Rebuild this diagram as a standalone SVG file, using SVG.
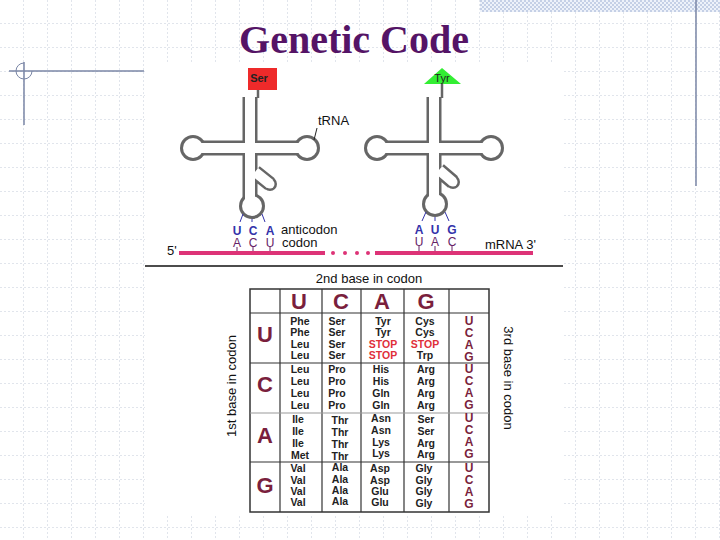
<svg xmlns="http://www.w3.org/2000/svg" width="720" height="540" viewBox="0 0 720 540">
<defs>
<pattern id="grid" width="24" height="24" patternUnits="userSpaceOnUse">
<path d="M24 0V24M0 24H24" stroke="#c2cad8" stroke-width="1" stroke-dasharray="2,2" fill="none"/>
</pattern>
<pattern id="hatch" width="4" height="4" patternUnits="userSpaceOnUse">
<rect width="4" height="4" fill="#eef2fa"/><rect width="2" height="2" fill="#c5d0e6"/><rect x="2" y="2" width="2" height="2" fill="#c5d0e6"/>
</pattern>
</defs>
<style>
.t{font-family:"Liberation Sans",Arial,sans-serif}
.cell{font-family:"Liberation Sans",Arial,sans-serif;font-size:10.5px;font-weight:bold;fill:#222;text-anchor:middle}
.stop{fill:#e0303a}
.hd{font-family:"Liberation Sans",Arial,sans-serif;font-size:22px;font-weight:bold;fill:#7a1f3d;text-anchor:middle}
.r3{font-family:"Liberation Sans",Arial,sans-serif;font-size:12px;font-weight:bold;fill:#7a1f3d;text-anchor:middle}
.ac{font-family:"Liberation Sans",Arial,sans-serif;font-size:12px;font-weight:bold;fill:#3333aa;text-anchor:middle}
.co{font-family:"Liberation Sans",Arial,sans-serif;font-size:12px;fill:#662266;text-anchor:middle}
.lbl{font-family:"Liberation Sans",Arial,sans-serif;font-size:13px;fill:#111}
.gl{stroke:#666;stroke-width:15;fill:none}
.wl{stroke:#fff;stroke-width:10;fill:none}
</style>
<rect width="720" height="540" fill="#fff"/>
<rect width="720" height="540" fill="url(#grid)"/>
<rect x="480" y="0" width="240" height="12" fill="url(#hatch)"/>
<line x1="696" y1="0" x2="696" y2="186" stroke="#7a86a6" stroke-width="1.5"/>
<line x1="9" y1="71" x2="144" y2="71" stroke="#7a86a6" stroke-width="1.5"/>
<line x1="24" y1="62" x2="24" y2="125" stroke="#7a86a6" stroke-width="1.5"/>
<path d="M24 63 A8 8 0 1 0 32 71" stroke="#7a86a6" stroke-width="1" fill="none"/>
<rect x="145" y="62" width="419" height="453" fill="#fff"/>
<text x="354" y="53" text-anchor="middle" font-family="Liberation Serif,serif" font-size="40" font-weight="bold" fill="#551466">Genetic Code</text>

<g id="trna-ser">
<g fill="#666">
<circle cx="193" cy="148" r="13"/><circle cx="307" cy="148" r="13"/><circle cx="252" cy="206" r="13"/><circle cx="270" cy="184" r="7"/>
</g>
<path class="gl" d="M250 97V200M193 148H307M255 172L270 184"/>
<g fill="#fff">
<circle cx="193" cy="148" r="10"/><circle cx="307" cy="148" r="10"/><circle cx="252" cy="206" r="10"/><circle cx="270" cy="184" r="4.5"/>
</g>
<path class="wl" d="M250 90V200M193 148H307M255 172L270 184"/>
<line x1="258" y1="88" x2="258" y2="98" stroke="#666" stroke-width="2.5"/>
<rect x="248" y="68" width="29" height="22" fill="#ee2a2a"/>
<text x="259" y="82" class="t" font-size="11" font-weight="bold" fill="#222" text-anchor="middle">Ser</text>
</g>

<g id="trna-tyr">
<g fill="#666">
<circle cx="377" cy="148" r="13"/><circle cx="491" cy="148" r="13"/><circle cx="435" cy="204" r="13"/><circle cx="453" cy="182" r="7"/>
</g>
<path class="gl" d="M434 97V198M377 148H491M439 170L453 182"/>
<g fill="#fff">
<circle cx="377" cy="148" r="10"/><circle cx="491" cy="148" r="10"/><circle cx="435" cy="204" r="10"/><circle cx="453" cy="182" r="4.5"/>
</g>
<path class="wl" d="M434 90V198M377 148H491M439 170L453 182"/>
<line x1="442" y1="82" x2="442" y2="98" stroke="#666" stroke-width="2.5"/>
<path d="M442 68 L461 84 L424 84 Z" fill="#33ee33"/>
<text x="442" y="82" class="t" font-size="11" fill="#222" text-anchor="middle">Tyr</text>
</g>

<g id="connectors" stroke-width="1">
<line x1="317" y1="128" x2="314" y2="140" stroke="#222"/>
<g stroke="#3333aa">
<line x1="243" y1="214" x2="240" y2="222"/><line x1="252" y1="219" x2="252" y2="222"/><line x1="262" y1="214" x2="265" y2="222"/>
<line x1="426" y1="212" x2="422" y2="221"/><line x1="435" y1="217" x2="435" y2="221"/><line x1="445" y1="212" x2="449" y2="221"/>
</g>
<g stroke="#662266">
<line x1="237" y1="247" x2="237" y2="253"/><line x1="253" y1="247" x2="253" y2="253"/><line x1="270" y1="247" x2="270" y2="253"/>
<line x1="419" y1="246" x2="419" y2="253"/><line x1="435" y1="246" x2="435" y2="253"/><line x1="452" y1="246" x2="452" y2="253"/>
</g>
<g id="mrna" stroke="#dd3377" stroke-width="4">
<line x1="179" y1="253" x2="325" y2="253"/>
<line x1="375" y1="253" x2="533" y2="253"/>
</g>
<g fill="#dd3377"><circle cx="333" cy="253" r="2"/><circle cx="345" cy="253" r="2"/><circle cx="357" cy="253" r="2"/><circle cx="368" cy="253" r="2"/></g>
<line x1="145" y1="266" x2="563" y2="266" stroke="#111" stroke-width="1.5"/>
</g>

<g id="labels">
<text x="318" y="125" class="lbl">tRNA</text>
<text x="237" y="235" class="ac">U</text><text x="253" y="235" class="ac">C</text><text x="270" y="235" class="ac">A</text>
<text x="237" y="247" class="co">A</text><text x="253" y="247" class="co">C</text><text x="270" y="247" class="co">U</text>
<text x="281" y="234" class="lbl">anticodon</text><text x="282" y="247" class="lbl">codon</text>
<text x="419" y="234" class="ac">A</text><text x="435" y="234" class="ac">U</text><text x="452" y="234" class="ac">G</text>
<text x="419" y="246" class="co">U</text><text x="435" y="246" class="co">A</text><text x="452" y="246" class="co">C</text>
<text x="167" y="255" class="lbl">5'</text>
<text x="485" y="249" class="lbl">mRNA  3'</text>
<text x="369" y="283" class="lbl" text-anchor="middle">2nd base in codon</text>
<text transform="translate(236,386) rotate(-90)" class="lbl" text-anchor="middle">1st base in codon</text>
<text transform="translate(504,378) rotate(90)" class="lbl" text-anchor="middle">3rd base in codon</text>
</g>

<g id="table">
<rect x="250" y="289" width="239" height="223" fill="none" stroke="#333" stroke-width="1.5"/>
<g stroke="#333" stroke-width="1.2">
<line x1="280" y1="289" x2="280" y2="512"/><line x1="322" y1="289" x2="322" y2="512"/><line x1="361" y1="289" x2="361" y2="512"/><line x1="404" y1="289" x2="404" y2="512"/><line x1="449" y1="289" x2="449" y2="512"/>
<line x1="250" y1="313" x2="489" y2="313"/><line x1="250" y1="363" x2="489" y2="363"/><line x1="250" y1="413" x2="489" y2="413" stroke="#999"/><line x1="250" y1="462" x2="489" y2="462"/>
</g>
<text x="299" y="309" class="hd">U</text><text x="341" y="309" class="hd">C</text><text x="382" y="309" class="hd">A</text><text x="426" y="309" class="hd">G</text>
<text x="265" y="342" class="hd">U</text><text x="265" y="392" class="hd">C</text><text x="265" y="443" class="hd">A</text><text x="265" y="493" class="hd">G</text>
<g class="cell">
<text x="300" y="325">Phe</text><text x="300" y="336">Phe</text><text x="300" y="348">Leu</text><text x="300" y="359">Leu</text>
<text x="337" y="325">Ser</text><text x="337" y="336">Ser</text><text x="337" y="348">Ser</text><text x="337" y="359">Ser</text>
<text x="383" y="325">Tyr</text><text x="383" y="336">Tyr</text><text x="383" y="348" class="stop">STOP</text><text x="383" y="359" class="stop">STOP</text>
<text x="425" y="325">Cys</text><text x="425" y="336">Cys</text><text x="425" y="348" class="stop">STOP</text><text x="425" y="359">Trp</text>
<text x="300" y="373">Leu</text><text x="300" y="385">Leu</text><text x="300" y="397">Leu</text><text x="300" y="409">Leu</text>
<text x="337" y="373">Pro</text><text x="337" y="385">Pro</text><text x="337" y="397">Pro</text><text x="337" y="409">Pro</text>
<text x="381" y="373">His</text><text x="381" y="385">His</text><text x="381" y="397">Gln</text><text x="381" y="409">Gln</text>
<text x="426" y="373">Arg</text><text x="426" y="385">Arg</text><text x="426" y="397">Arg</text><text x="426" y="409">Arg</text>
<text x="298" y="423">Ile</text><text x="298" y="435">Ile</text><text x="298" y="447">Ile</text><text x="300" y="459">Met</text>
<text x="340" y="424">Thr</text><text x="340" y="436">Thr</text><text x="340" y="448">Thr</text><text x="340" y="460">Thr</text>
<text x="381" y="422">Asn</text><text x="381" y="434">Asn</text><text x="381" y="446">Lys</text><text x="381" y="457">Lys</text>
<text x="426" y="423">Ser</text><text x="426" y="435">Ser</text><text x="426" y="447">Arg</text><text x="426" y="458">Arg</text>
<text x="298" y="472">Val</text><text x="298" y="484">Val</text><text x="298" y="495">Val</text><text x="298" y="506">Val</text>
<text x="340" y="471">Ala</text><text x="340" y="483">Ala</text><text x="340" y="494">Ala</text><text x="340" y="505">Ala</text>
<text x="380" y="472">Asp</text><text x="380" y="484">Asp</text><text x="380" y="495">Glu</text><text x="380" y="506">Glu</text>
<text x="424" y="472">Gly</text><text x="424" y="484">Gly</text><text x="424" y="495">Gly</text><text x="424" y="507">Gly</text>
</g>
<g class="r3">
<text x="469" y="325">U</text><text x="469" y="337">C</text><text x="469" y="349">A</text><text x="469" y="361">G</text>
<text x="469" y="373">U</text><text x="469" y="385">C</text><text x="469" y="397">A</text><text x="469" y="409">G</text>
<text x="469" y="422">U</text><text x="469" y="434">C</text><text x="469" y="446">A</text><text x="469" y="458">G</text>
<text x="469" y="472">U</text><text x="469" y="484">C</text><text x="469" y="496">A</text><text x="469" y="508">G</text>
</g>
</g>
</svg>
